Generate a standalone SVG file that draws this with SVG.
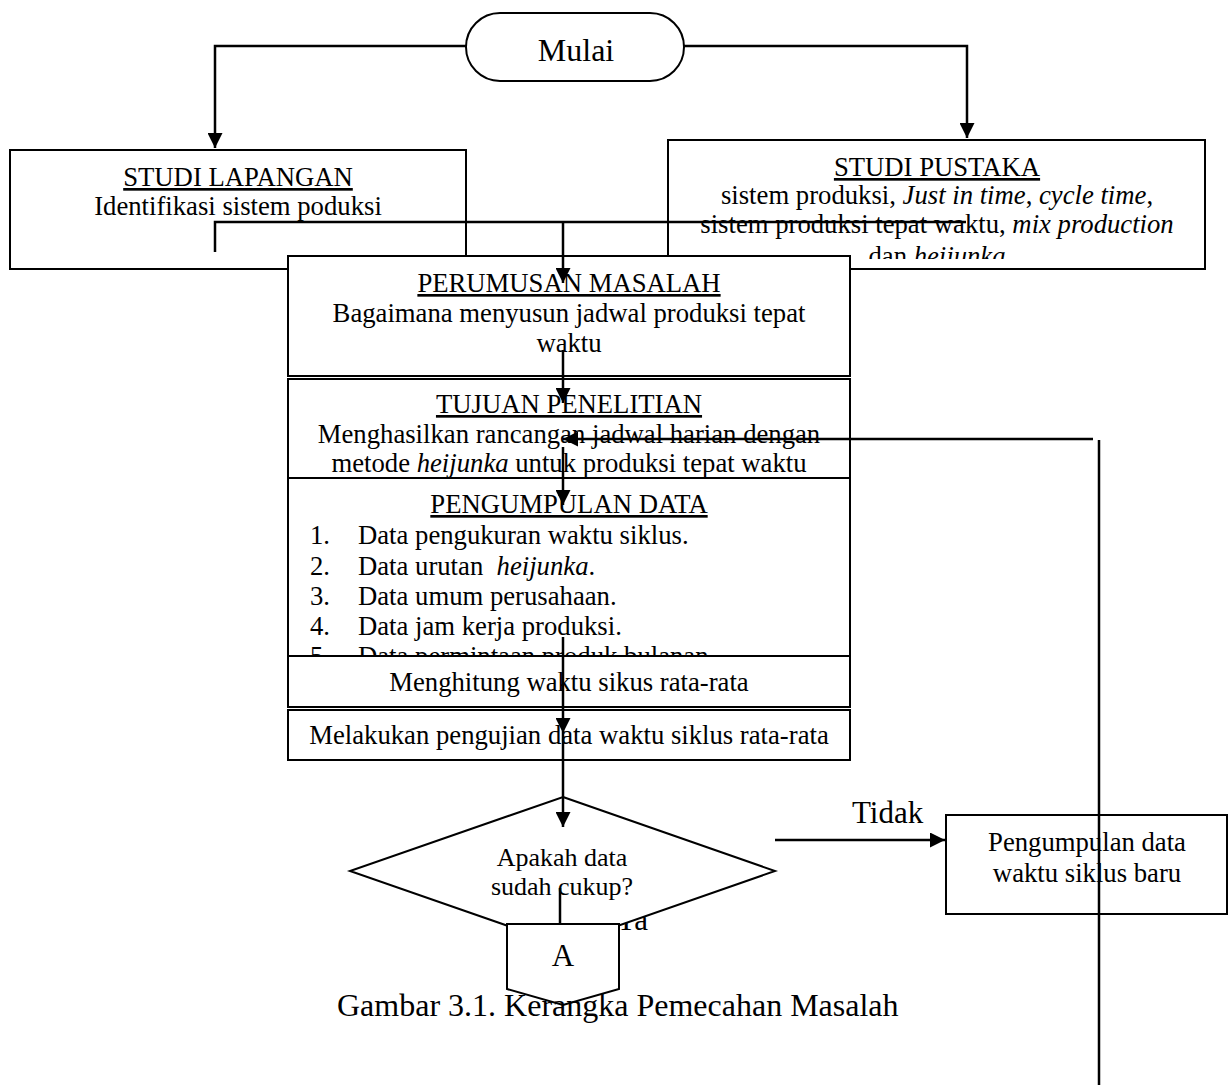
<svg xmlns="http://www.w3.org/2000/svg" width="1230" height="1086" viewBox="0 0 1230 1086">
<style>
.t{font-family:"Liberation Serif","Times New Roman",serif;font-size:26.7px;fill:#000}
.c{text-anchor:middle}
.u{text-decoration:underline}
.i{font-style:italic}
.box{fill:#fff;stroke:#000;stroke-width:2}
.ln{fill:none;stroke:#000;stroke-width:2.5}
</style>
<defs>
<marker id="ah" viewBox="0 0 10 10" refX="10" refY="5" markerWidth="6" markerHeight="6" markerUnits="strokeWidth" orient="auto">
<path d="M0,0 L10,5 L0,10 z" fill="#000"/>
</marker>
<clipPath id="clipPustaka"><rect x="668" y="140" width="537" height="119"/></clipPath>
<clipPath id="clipData"><rect x="288" y="478" width="562" height="177"/></clipPath>
</defs>
<rect width="1230" height="1086" fill="#fff"/>

<g id="studi-lapangan">
<rect class="box" x="10" y="150" width="456" height="119"/>
<text class="t c u" x="238" y="186">STUDI LAPANGAN</text>
<text class="t c" x="238" y="215">Identifikasi sistem poduksi</text>
</g>

<g id="studi-pustaka">
<rect class="box" x="668" y="140" width="537" height="129"/>
<text class="t c u" x="937" y="176">STUDI PUSTAKA</text>
<text class="t c" x="937" y="204">sistem produksi, <tspan class="i">Just in time</tspan>, <tspan class="i">cycle time</tspan>,</text>
<text class="t c" x="937" y="233">sistem produksi tepat waktu, <tspan class="i">mix production</tspan></text>
<text class="t c" x="937" y="265" clip-path="url(#clipPustaka)">dan <tspan class="i">heijunka</tspan></text>
</g>

<g id="mulai">
<rect class="box" x="466" y="13" width="218" height="68" rx="34" ry="34"/>
<text class="t c" x="576" y="61" style="font-size:32px">Mulai</text>
</g>

<g id="perumusan-masalah">
<rect class="box" x="288" y="256" width="562" height="120"/>
<text class="t c u" x="569" y="292">PERUMUSAN MASALAH</text>
<text class="t c" x="569" y="322">Bagaimana menyusun jadwal produksi tepat</text>
<text class="t c" x="569" y="352">waktu</text>
</g>

<g id="tujuan-penelitian">
<rect class="box" x="288" y="379" width="562" height="99"/>
<text class="t c u" x="569" y="413">TUJUAN PENELITIAN</text>
<text class="t c" x="569" y="443">Menghasilkan rancangan jadwal harian dengan</text>
<text class="t c" x="569" y="472">metode <tspan class="i">heijunka</tspan> untuk produksi tepat waktu</text>
</g>

<g id="pengumpulan-data">
<rect class="box" x="288" y="478" width="562" height="178"/>
<text class="t c u" x="569" y="513">PENGUMPULAN DATA</text>
<text class="t" x="310" y="544">1.</text><text class="t" x="358" y="544">Data pengukuran waktu siklus.</text>
<text class="t" x="310" y="575">2.</text><text class="t" x="358" y="575" xml:space="preserve">Data urutan  <tspan class="i">heijunka</tspan>.</text>
<text class="t" x="310" y="605">3.</text><text class="t" x="358" y="605">Data umum perusahaan.</text>
<text class="t" x="310" y="635">4.</text><text class="t" x="358" y="635">Data jam kerja produksi.</text>
<g clip-path="url(#clipData)">
<text class="t" x="310" y="665">5.</text><text class="t" x="358" y="665">Data permintaan produk bulanan.</text>
</g>
</g>

<g id="menghitung">
<rect class="box" x="288" y="656" width="562" height="51"/>
<text class="t c" x="569" y="691">Menghitung waktu sikus rata-rata</text>
</g>

<g id="melakukan-pengujian">
<rect class="box" x="288" y="710" width="562" height="50"/>
<text class="t c" x="569" y="744">Melakukan pengujian data waktu siklus rata-rata</text>
</g>

<g id="label-ya">
<text class="t" x="615" y="930" style="font-size:31px">Ya</text>
</g>

<g id="keputusan">
<polygon class="box" points="563,797 775,871 563,945 350,871"/>
<text class="t c" x="562" y="866" style="font-size:26px">Apakah data</text>
<text class="t c" x="562" y="895" style="font-size:26px">sudah cukup?</text>
</g>

<g id="konektor-a">
<polygon class="box" points="507,924 619,924 619,989 563,1005 507,989"/>
<text class="t c" x="563" y="966" style="font-size:31px">A</text>
</g>

<g id="pengumpulan-baru">
<rect class="box" x="946" y="815" width="281" height="99"/>
<text class="t c" x="1087" y="851">Pengumpulan data</text>
<text class="t c" x="1087" y="882">waktu siklus baru</text>
</g>

<g id="label-tidak">
<text class="t" x="852" y="823" style="font-size:31px">Tidak</text>
</g>

<g id="caption">
<text class="t" x="337" y="1016" style="font-size:32px">Gambar 3.1. Kerangka Pemecahan Masalah</text>
</g>

<g id="connectors">
<path class="ln" d="M466,46 H215 V148" marker-end="url(#ah)"/>
<path class="ln" d="M684,46 H967 V138" marker-end="url(#ah)"/>
<path class="ln" d="M215,252 V222 H966"/>
<path class="ln" d="M563,222 V283" marker-end="url(#ah)"/>
<path class="ln" d="M563,350 V403" marker-end="url(#ah)"/>
<path class="ln" d="M1093,439 H563" marker-end="url(#ah)"/>
<path class="ln" d="M1099,440 V1085"/>
<path class="ln" d="M563,447 V505" marker-end="url(#ah)"/>
<path class="ln" d="M563,637 V733" marker-end="url(#ah)"/>
<path class="ln" d="M563,733 V827" marker-end="url(#ah)"/>
<path class="ln" d="M775,840 H945" marker-end="url(#ah)"/>
<path class="ln" d="M560,888 V924"/>
</g>
</svg>
